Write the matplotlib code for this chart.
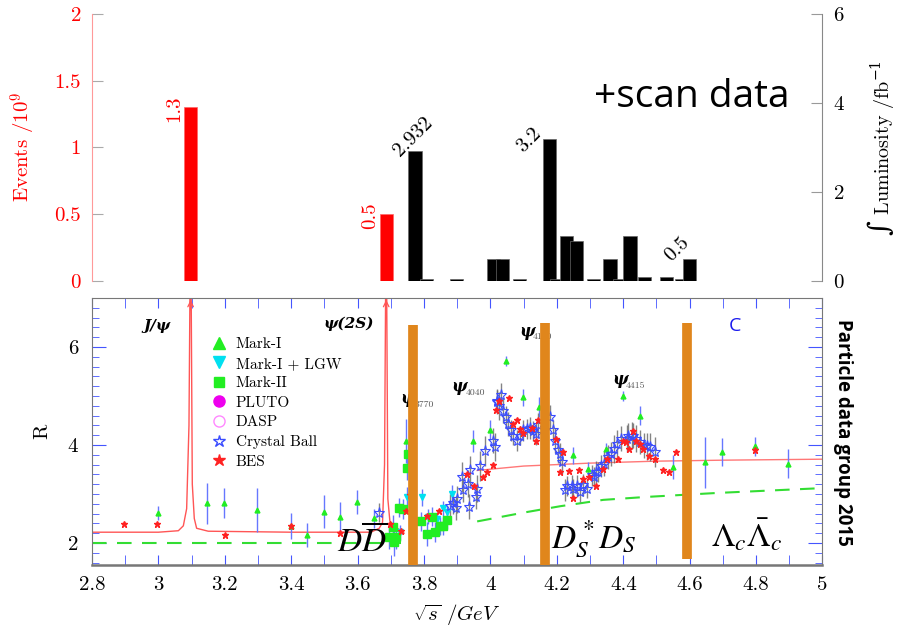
import matplotlib.pyplot as plt
from matplotlib.lines import Line2D
from matplotlib.ticker import FixedLocator, MultipleLocator

plt.rcParams['font.family'] = ['cmr10', 'DejaVu Serif']
plt.rcParams['mathtext.fontset'] = 'cm'
plt.rcParams['axes.formatter.use_mathtext'] = True

# ---- top panel: collected data sets ----
ev_x = [3.097, 3.686]                      # J/psi, psi(2S) events (1e9)
ev_val = [1.3, 0.5]
ev_lbl = ['1.3', '0.5']

lum_x = [3.773, 3.808, 3.898, 4.009, 4.037, 4.087, 4.178, 4.200, 4.230, 4.260,
         4.310, 4.360, 4.390, 4.420, 4.465, 4.530, 4.575, 4.600]
lum_val = [2.932, 0.05, 0.05, 0.49, 0.49, 0.05, 3.2, 0.05, 1.0, 0.9,
           0.05, 0.5, 0.05, 1.0, 0.1, 0.1, 0.05, 0.5]
lum_lbl_x = [3.773, 4.178, 4.600]
lum_lbl_val = [2.932, 3.2, 0.5]
lum_lbl = ['2.932', '3.2', '0.5']

ev_ticks = [0, 0.5, 1, 1.5, 2]
ev_ticklabels = ['0', '0.5', '1', '1.5', '2']
lum_ticks = [0, 2, 4, 6]
lum_ticklabels = ['0', '2', '4', '6']

# ---- bottom panel: R measurements ----
mk1_x = [3.000, 3.147, 3.198, 3.298, 3.400, 3.448, 3.498, 3.548, 3.598, 3.648,
         3.746, 3.947, 3.999, 4.047, 4.097, 4.147, 4.248, 4.295, 4.348, 4.398,
         4.449, 4.549, 4.646, 4.697, 4.797, 4.897]
mk1_r = [2.61, 2.81, 2.81, 2.67, 2.35, 2.16, 2.64, 2.52, 2.84, 2.50,
         4.08, 4.08, 4.30, 5.72, 4.97, 4.78, 3.79, 3.50, 3.92, 5.00,
         4.60, 3.55, 3.65, 3.86, 3.97, 3.62]
mk1_err = [0.14, 0.42, 0.31, 0.45, 0.26, 0.25, 0.34, 0.31, 0.24, 0.20,
           0.45, 0.22, 0.20, 0.10, 0.17, 0.20, 0.17, 0.15, 0.12, 0.10,
           0.20, 0.25, 0.52, 0.28, 0.20, 0.30]

lgw_x = [3.728, 3.748, 3.793, 3.813, 3.838, 3.856, 3.870, 3.884]
lgw_r = [2.22, 2.94, 2.93, 2.54, 2.48, 2.71, 2.63, 2.99]
lgw_err = [0.15, 0.20, 0.18, 0.15, 0.15, 0.15, 0.15, 0.20]

mk2_x = [3.693, 3.705, 3.711, 3.716, 3.725, 3.738, 3.750, 3.753, 3.790, 3.808,
         3.823, 3.833, 3.848, 3.858, 3.870]
mk2_r = [2.12, 2.33, 2.03, 2.13, 2.72, 2.69, 3.54, 3.81, 2.44, 2.18,
         2.54, 2.23, 2.35, 2.35, 2.46]
mk2_err = [0.25, 0.25, 0.30, 0.25, 0.20, 0.20, 0.25, 0.25, 0.20, 0.25,
           0.20, 0.20, 0.18, 0.18, 0.18]

cb_x = [3.665, 3.878, 3.886, 3.896, 3.900, 3.913, 3.918, 3.932, 3.935, 3.939,
        3.955, 3.959, 3.969, 3.984, 4.009, 4.014, 4.019, 4.021, 4.027, 4.031,
        4.039, 4.047, 4.054, 4.062, 4.069, 4.079, 4.089, 4.099, 4.109, 4.119,
        4.129, 4.137, 4.144, 4.180, 4.188, 4.195, 4.202, 4.210, 4.215, 4.225,
        4.232, 4.245, 4.250, 4.260, 4.270, 4.278, 4.290, 4.307, 4.313, 4.319,
        4.325, 4.332, 4.342, 4.355, 4.362, 4.373, 4.380, 4.392, 4.410, 4.415,
        4.425, 4.429, 4.439, 4.451, 4.461, 4.471, 4.481, 4.495]
cb_r = [2.62, 2.75, 2.82, 2.71, 2.89, 3.35, 3.08, 3.21, 2.74, 3.48,
        2.94, 3.11, 3.57, 3.88, 4.09, 3.96, 4.90, 4.88, 4.80, 5.02,
        4.70, 4.57, 4.43, 4.30, 4.19, 4.09, 4.19, 4.30, 4.33, 4.35,
        4.28, 4.22, 4.40, 4.57, 4.30, 4.09, 3.89, 3.82, 3.65, 3.08,
        3.16, 3.16, 3.11, 3.16, 3.04, 3.18, 3.11, 3.38, 3.35, 3.45,
        3.45, 3.57, 3.62, 3.75, 3.82, 3.92, 4.03, 4.13, 4.13, 4.19,
        4.19, 4.19, 4.13, 4.06, 3.99, 3.97, 3.96, 3.86]
cb_err = [0.20, 0.25, 0.22, 0.25, 0.28, 0.30, 0.25, 0.28, 0.25, 0.30,
          0.25, 0.28, 0.30, 0.30, 0.25, 0.28, 0.25, 0.25, 0.28, 0.25,
          0.25, 0.22, 0.25, 0.22, 0.20, 0.22, 0.20, 0.22, 0.20, 0.22,
          0.20, 0.22, 0.25, 0.25, 0.22, 0.25, 0.25, 0.22, 0.25, 0.22,
          0.20, 0.22, 0.20, 0.22, 0.20, 0.22, 0.20, 0.22, 0.20, 0.22,
          0.20, 0.22, 0.25, 0.25, 0.25, 0.28, 0.28, 0.25, 0.28, 0.25,
          0.28, 0.25, 0.28, 0.25, 0.25, 0.28, 0.28, 0.30]

bes_x = [2.897, 2.997, 3.200, 3.400, 3.548, 3.698, 3.730, 3.746, 3.758, 3.808,
         3.846, 3.929, 3.949, 3.979, 3.989, 4.009, 4.017, 4.027, 4.057, 4.067,
         4.079, 4.089, 4.099, 4.124, 4.137, 4.144, 4.198, 4.208, 4.218, 4.238,
         4.248, 4.268, 4.278, 4.298, 4.318, 4.338, 4.350, 4.385, 4.398, 4.408,
         4.416, 4.429, 4.438, 4.449, 4.459, 4.479, 4.497, 4.519, 4.538, 4.559,
         4.797]
bes_r = [2.38, 2.38, 2.17, 2.35, 2.20, 2.39, 2.25, 2.65, 2.98, 2.55,
         2.66, 3.40, 3.16, 3.35, 3.45, 3.59, 4.72, 4.89, 4.96, 4.43,
         4.52, 4.33, 4.24, 4.35, 4.09, 4.50, 4.13, 3.45, 3.86, 3.47,
         2.91, 3.48, 3.30, 3.34, 3.16, 3.50, 3.72, 3.72, 4.09, 4.06,
         3.92, 4.28, 4.09, 4.01, 3.92, 3.77, 3.72, 3.48, 3.45, 3.86,
         3.90]

# theory curves
curve1_x = [2.80, 3.00, 3.060, 3.075, 3.085, 3.092, 3.097, 3.102, 3.108, 3.115,
            3.150, 3.400, 3.640, 3.665, 3.675, 3.681, 3.686, 3.691, 3.697, 3.705,
            3.720, 3.740]
curve1_r = [2.22, 2.22, 2.25, 2.35, 2.70, 4.40, 9.00, 3.20, 2.50, 2.30,
            2.24, 2.22, 2.22, 2.30, 2.42, 3.60, 9.00, 2.90, 2.45, 2.38,
            2.30, 2.20]
curve2_x = [3.96, 4.10, 4.30, 4.50, 4.70, 5.00]
curve2_r = [3.48, 3.57, 3.63, 3.67, 3.69, 3.71]
dash1_x = [2.80, 3.73]
dash1_r = [2.00, 2.00]
dash2_x = [3.96, 4.10, 4.21, 4.34, 4.47, 4.68, 5.00]
dash2_r = [2.44, 2.62, 2.75, 2.88, 2.94, 3.02, 3.12]

peak_x = [3.097, 3.686]
thr_x = [3.768, 4.163, 4.592]
thr_top = [6.44, 6.48, 6.48]
thr_bot = [1.55, 1.55, 1.67]

x_ticks = [2.8, 3.0, 3.2, 3.4, 3.6, 3.8, 4.0, 4.2, 4.4, 4.6, 4.8, 5.0]
x_ticklabels = ['2.8', '3', '3.2', '3.4', '3.6', '3.8', '4', '4.2', '4.4', '4.6', '4.8', '5']
r_ticks = [2, 4, 6]

fig = plt.figure(figsize=(9.04, 6.35), dpi=100)
ax_top = fig.add_axes([0.1018, 0.5575, 0.808, 0.4205])
ax_lum = ax_top.twinx()
ax = fig.add_axes([0.1018, 0.1102, 0.808, 0.4205])

# ---------------- top panel ----------------
ax_top.set_xlim(2.8, 5.0)
ax_top.set_ylim(0, 2)
ax_lum.set_ylim(0, 6)
ax_top.bar(ev_x, ev_val, width=0.04, color='red', edgecolor='#ff6666', linewidth=0.5)
ax_lum.bar(lum_x, lum_val, width=0.04, color='black', edgecolor='#666666', linewidth=0.5)

for x, v, t in zip(ev_x, ev_val, ev_lbl):
    ax_top.annotate(t, (x, v), xytext=(-11.5, -1), textcoords='offset points',
                    rotation=90, ha='center', va='center', color='red', fontsize=15)
lum_offsets = [(-1.4, 10), (-15, -1.4), (-9.4, 6.8)]
for x, v, t, off in zip(lum_lbl_x, lum_lbl_val, lum_lbl, lum_offsets):
    ax_lum.annotate(t, (x, v), xytext=off, textcoords='offset points',
                    rotation=45, ha='center', va='center', color='black', fontsize=15)

for s in ['top', 'bottom', 'right']:
    ax_top.spines[s].set_visible(False)
for s in ['top', 'bottom', 'left']:
    ax_lum.spines[s].set_visible(False)
ax_top.spines['left'].set_color('#ff9999')
ax_lum.spines['right'].set_color('#888888')
ax_top.tick_params(axis='x', bottom=False, labelbottom=False)
ax_lum.tick_params(axis='x', bottom=False, labelbottom=False)
ax_top.set_yticks(ev_ticks)
ax_top.set_yticklabels(ev_ticklabels, color='red', fontsize=15)
ax_top.tick_params(axis='y', direction='in', length=8, color='#aaaaaa', pad=8)
ax_lum.set_yticks(lum_ticks)
ax_lum.set_yticklabels(lum_ticklabels, fontsize=15)
ax_lum.tick_params(axis='y', direction='in', length=8, color='#999999', pad=8)
ax_top.set_ylabel('Events /10$^9$', color='red', fontsize=15, labelpad=12)
fig.text(881 / 904, 1 - 148 / 635, r'$\int$ Luminosity /fb$^{-1}$', fontsize=14.5,
         math_fontfamily='dejavuserif', rotation=90, ha='center', va='center')

fig.text(692 / 904, 1 - 97 / 635, '+scan data', family='Open Sans', fontsize=28,
         ha='center', va='center')

# ---------------- bottom panel ----------------
ax.set_xlim(2.8, 5.0)
ax.set_ylim(1.55, 7.0)

ax.plot(dash1_x, dash1_r, color='#33dd33', lw=1.5, dashes=(7, 5), zorder=2)
ax.plot(dash2_x, dash2_r, color='#33dd33', lw=1.5, dashes=(7, 5), zorder=2)
ax.plot(curve1_x, curve1_r, color='#ff5555', lw=1.0, zorder=2)
ax.plot(curve2_x, curve2_r, color='#ff7777', lw=1.0, zorder=2)
for px in peak_x:
    ax.annotate('', xy=(px, 7.02), xytext=(px, 6.7), annotation_clip=False,
                arrowprops=dict(arrowstyle='->', color='#ff5555', lw=0.9))

ax.errorbar(mk1_x, mk1_r, yerr=mk1_err, fmt='none', ecolor='#6677ff', elinewidth=1.0, zorder=3)
ax.errorbar(lgw_x, lgw_r, yerr=lgw_err, fmt='none', ecolor='#6677ff', elinewidth=1.0, zorder=3)
ax.errorbar(mk2_x, mk2_r, yerr=mk2_err, fmt='none', ecolor='#6677ff', elinewidth=1.0, zorder=3)
ax.errorbar(cb_x, cb_r, yerr=cb_err, fmt='none', ecolor='#666666', elinewidth=1.0, alpha=0.8, zorder=3)

ax.plot(mk1_x, mk1_r, ls='none', marker='^', ms=3.5, color='#22ee22', zorder=4)
ax.plot(lgw_x, lgw_r, ls='none', marker='v', ms=5, color='#00e0f0', zorder=4)
ax.plot(mk2_x, mk2_r, ls='none', marker='s', ms=5.5, color='#22ee22', zorder=4)
ax.plot(cb_x, cb_r, ls='none', marker='*', ms=8, mfc='none', mec='#3a4cff', mew=0.8, zorder=4)
ax.plot(bes_x, bes_r, ls='none', marker='*', ms=4.5, color='#ff2222', zorder=4)

# resonance labels
ax.text(2.996, 6.43, 'J/ψ', family='DejaVu Serif', weight='bold', style='italic',
        fontsize=11, ha='center', va='center', zorder=2)
ax.text(3.573, 6.47, 'ψ(2S)', family='DejaVu Serif', weight='bold', style='italic',
        fontsize=11, ha='center', va='center', zorder=2)
res_lbl = [(3.752, 4.95, '3770'), (3.907, 5.19, '4040'), (4.110, 6.32, '4160'), (4.390, 5.33, '4415')]
for x, y, sub in res_lbl:
    ax.text(x, y, 'ψ', family='DejaVu Serif', weight='bold', style='italic',
            fontsize=12, ha='center', va='center', zorder=2)
    ax.text(x + 0.018, y - 0.12, sub, fontsize=7, color='#555555', ha='left',
            va='center', zorder=2)

ax.vlines(thr_x, thr_bot, thr_top, colors='#e0861c', linewidth=7, zorder=6)

ax.text(3.613, 1.82, r'$D\overline{D}$', math_fontfamily='stix', fontsize=24,
        ha='center', va='baseline', zorder=7)
ax.text(4.312, 1.90, r'$D_S^*D_S$', math_fontfamily='stix', fontsize=24,
        ha='center', va='baseline', zorder=7)
ax.text(4.773, 1.92, r'$\Lambda_c\bar{\Lambda}_c$', math_fontfamily='stix', fontsize=24,
        ha='center', va='baseline', zorder=7)
ax.text(4.737, 6.43, 'C', family='Open Sans', fontsize=14, color='#1a1aee',
        ha='center', va='center')

handles = [
    Line2D([], [], ls='none', marker='^', ms=8, color='#22ee22', label='Mark-I'),
    Line2D([], [], ls='none', marker='v', ms=8, color='#00e0f0', label='Mark-I + LGW'),
    Line2D([], [], ls='none', marker='s', ms=7, color='#22ee22', label='Mark-II'),
    Line2D([], [], ls='none', marker='o', ms=8, color='#ee00ee', label='PLUTO'),
    Line2D([], [], ls='none', marker='o', ms=8, mfc='none', mec='#ff88ff', label='DASP'),
    Line2D([], [], ls='none', marker='*', ms=9, mfc='none', mec='#3a4cff', label='Crystal Ball'),
    Line2D([], [], ls='none', marker='*', ms=9, color='#ff2222', label='BES'),
]
ax.legend(handles=handles, loc='upper left', bbox_to_anchor=(0.155, 0.875), frameon=False,
          fontsize=11, labelspacing=0.38, handlelength=1.0, handletextpad=0.6,
          borderaxespad=0)

ax.set_xticks(x_ticks)
ax.set_xticklabels(x_ticklabels, fontsize=15)
ax.xaxis.set_minor_locator(MultipleLocator(0.1))
ax.yaxis.set_major_locator(FixedLocator(r_ticks))
ax.set_yticklabels([str(t) for t in r_ticks], fontsize=15)
ax.yaxis.set_minor_locator(MultipleLocator(0.2))
ax.tick_params(which='both', direction='in', top=True, right=True, color='#4455ff')
ax.tick_params(axis='x', which='both', length=7, pad=8)
ax.tick_params(axis='y', which='major', length=10, pad=10)
ax.tick_params(axis='y', which='minor', length=5)
for s in ax.spines.values():
    s.set_color('#777777')
ax.spines['bottom'].set_linewidth(1.8)
ax.set_ylabel('R', fontsize=15, labelpad=12)
ax.set_xlabel(r'$\sqrt{s}\ /GeV$', fontsize=15, labelpad=6)

fig.text(843 / 904, 1 - 432 / 635, 'Particle data group 2015', family='Open Sans',
         weight='bold', fontsize=13.5, rotation=-90, ha='center', va='center')

fig.savefig('out.png', dpi=100)
